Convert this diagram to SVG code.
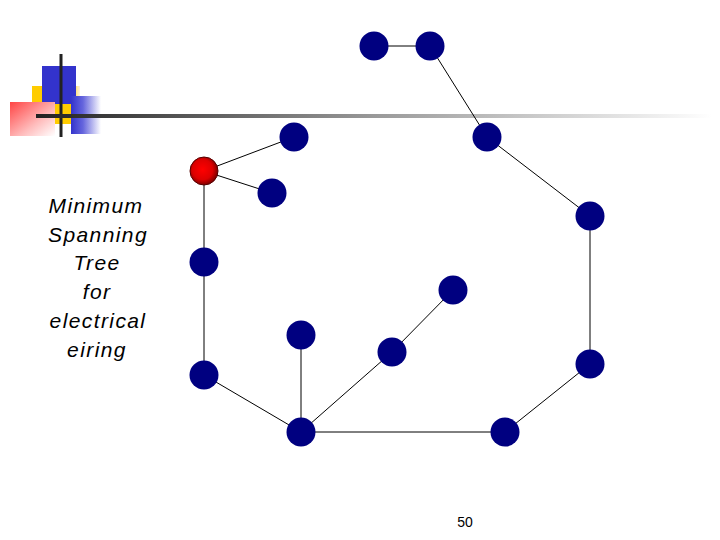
<svg xmlns="http://www.w3.org/2000/svg" width="720" height="540" viewBox="0 0 720 540">
<style>
.n{fill:#000080}
.e line{stroke:#000;stroke-width:1}
.t{font-family:"Liberation Sans",Arial,sans-serif;font-style:italic;font-size:21px;letter-spacing:1.4px;fill:#000;text-anchor:middle}
</style>
<defs>
<linearGradient id="bar" x1="0" y1="0" x2="1" y2="0">
<stop offset="0" stop-color="#222"/>
<stop offset="0.5" stop-color="#999"/>
<stop offset="1" stop-color="#fff"/>
</linearGradient>
<linearGradient id="redg" x1="0" y1="0" x2="1" y2="1">
<stop offset="0" stop-color="#f44"/>
<stop offset="0.6" stop-color="#fbb"/>
<stop offset="1" stop-color="#fff"/>
</linearGradient>
<linearGradient id="blueg" x1="0" y1="0" x2="1" y2="0">
<stop offset="0" stop-color="#3333cc"/>
<stop offset="0.4" stop-color="#6666dd"/>
<stop offset="1" stop-color="#fff"/>
</linearGradient>
<linearGradient id="yelg" x1="0" y1="0" x2="1" y2="0">
<stop offset="0" stop-color="#ffcc00"/>
<stop offset="0.8" stop-color="#ffcc00"/>
<stop offset="1" stop-color="#fff3e0"/>
</linearGradient>
<radialGradient id="redn" cx="0.45" cy="0.45" r="0.6">
<stop offset="0" stop-color="#ff0000"/>
<stop offset="0.6" stop-color="#dd0000"/>
<stop offset="1" stop-color="#660000"/>
</radialGradient>
</defs>
<rect width="720" height="540" fill="#fff"/>
<g id="logo">
<rect x="32" y="86" width="48" height="38" fill="url(#yelg)"/>
<rect x="42" y="66" width="34" height="38" fill="#3333cc"/>
<rect x="10" y="102" width="45" height="34" fill="url(#redg)"/>
<rect x="71" y="96" width="30" height="38" fill="url(#blueg)"/>
<rect x="59.5" y="54" width="3" height="83" fill="#222"/>
<rect x="36" y="114" width="676" height="4" fill="url(#bar)"/>
</g>
<g id="title">
<text class="t" x="96" y="213">Minimum</text>
<text class="t" x="98" y="242">Spanning</text>
<text class="t" x="97" y="270">Tree</text>
<text class="t" x="97" y="299">for</text>
<text class="t" x="98" y="328">electrical</text>
<text class="t" x="97" y="357">eiring</text>
</g>
<g id="connectors" class="e">
<line x1="374" y1="46" x2="430" y2="46"/>
<line x1="430" y1="46" x2="487" y2="137"/>
<line x1="487" y1="137" x2="590" y2="216"/>
<line x1="590" y1="216" x2="590" y2="364"/>
<line x1="590" y1="364" x2="505" y2="432"/>
<line x1="505" y1="432" x2="301" y2="432"/>
<line x1="301" y1="432" x2="204" y2="375"/>
<line x1="204" y1="375" x2="204" y2="262"/>
<line x1="204" y1="262" x2="204" y2="171"/>
<line x1="204" y1="171" x2="294" y2="137"/>
<line x1="204" y1="171" x2="272" y2="193"/>
<line x1="301" y1="432" x2="301" y2="335"/>
<line x1="301" y1="432" x2="392" y2="352"/>
<line x1="392" y1="352" x2="453" y2="290"/>
</g>
<g id="nA"><circle class="n" cx="374" cy="46" r="14.5"/></g>
<g id="nB"><circle class="n" cx="430" cy="46" r="14.5"/></g>
<g id="nC"><circle class="n" cx="487" cy="137" r="14.5"/></g>
<g id="nD"><circle class="n" cx="590" cy="216" r="14.5"/></g>
<g id="nE"><circle class="n" cx="590" cy="364" r="14.5"/></g>
<g id="nF"><circle class="n" cx="505" cy="432" r="14.5"/></g>
<g id="nG"><circle class="n" cx="301" cy="432" r="14.5"/></g>
<g id="nH"><circle class="n" cx="204" cy="375" r="14.5"/></g>
<g id="nI"><circle class="n" cx="204" cy="262" r="14.5"/></g>
<g id="nJ"><circle cx="204" cy="171" r="14" fill="url(#redn)" stroke="#550000" stroke-width="1"/></g>
<g id="nK"><circle class="n" cx="294" cy="137" r="14.5"/></g>
<g id="nL"><circle class="n" cx="272" cy="193" r="14.5"/></g>
<g id="nM"><circle class="n" cx="301" cy="335" r="14.5"/></g>
<g id="nN"><circle class="n" cx="392" cy="352" r="14.5"/></g>
<g id="nO"><circle class="n" cx="453" cy="290" r="14.5"/></g>
<g id="page"><text x="465" y="527" font-family="Liberation Sans,Arial,sans-serif" font-size="14" text-anchor="middle" fill="#000">50</text></g>
</svg>
